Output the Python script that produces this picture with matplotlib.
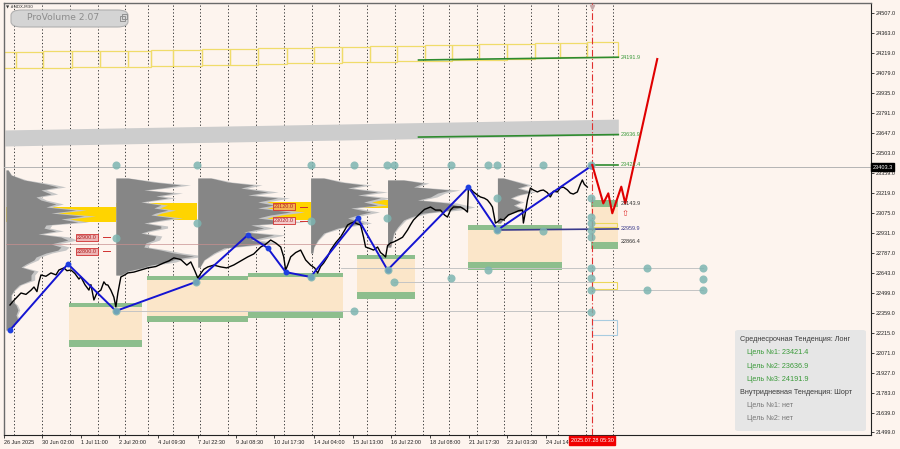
import matplotlib
matplotlib.use("Agg")
import matplotlib.pyplot as plt
import matplotlib.transforms as mtransforms
from matplotlib.patches import Rectangle, FancyBboxPatch

plt.rcParams['font.family'] = ['Liberation Sans', 'DejaVu Sans']

BG = '#FDF4EE'

# axes
price_ticks = [24507.0, 24363.0, 24219.0, 24079.0, 23935.0, 23791.0, 23647.0, 23503.0,
               23359.0, 23219.0, 23075.0, 22931.0, 22787.0, 22643.0, 22499.0, 22359.0,
               22215.0, 22071.0, 21927.0, 21783.0, 21639.0, 21499.0]
time_ticks = [3, 41, 80, 118, 157, 197, 235, 273, 313, 352, 390, 429, 469, 507, 546]
time_labels = ['26 Jun 2025', '30 Jun 02:00', '1 Jul 11:00', '2 Jul 20:00', '4 Jul 09:30',
               '7 Jul 22:30', '9 Jul 08:30', '10 Jul 17:30', '14 Jul 04:00', '15 Jul 13:00',
               '16 Jul 22:00', '18 Jul 08:00', '21 Jul 17:30', '23 Jul 03:30', '24 Jul 14']
day_lines = [13, 41, 69, 97, 124, 147, 172, 199, 227, 255, 283, 311, 338, 366, 394, 422,
             449, 477, 504, 531, 558, 586, 613]
now_bar = 591.7
now_label = '2025.07.28 05:30'
last_price = 23403.3

# price (close line)
bars = [9, 12, 16, 20, 25, 30, 33, 36, 38, 40, 45, 50, 55, 58, 63, 66, 70, 74, 78, 80,
        84, 88, 90, 93, 96, 100, 103, 105, 107, 110, 113, 115, 117, 120, 124, 127, 133, 140,
        147, 155, 163, 168, 173, 180, 186, 190, 194, 197, 200, 203, 207, 213, 220, 226, 233,
        240, 247, 253, 260, 265, 270, 275, 280, 283, 285, 287, 290, 295, 300, 305, 310, 314,
        317, 320, 323, 327, 330, 335, 340, 344, 347, 350, 353, 357, 360, 363, 365, 369, 373,
        377, 380, 383, 385, 387, 390, 393, 397, 402, 407, 410, 413, 418, 424, 430, 435, 440,
        444, 447, 450, 453, 460, 464, 467, 468, 471, 473, 477, 480, 484, 487, 490, 492, 495,
        497, 500, 503, 508, 513, 518, 522, 523, 525, 527, 530, 533, 537, 540, 543, 547, 550,
        553, 557, 560, 563, 567, 570, 573, 577, 580, 582, 584, 587]
close = [22414, 22440, 22470, 22500, 22490, 22520, 22543, 22510, 22580, 22629, 22620, 22644,
         22630, 22665, 22680, 22660, 22665, 22640, 22600, 22615, 22560, 22521, 22560, 22450,
         22500, 22521, 22580, 22560, 22557, 22520, 22470, 22400, 22500, 22615, 22630, 22644,
         22650, 22665, 22680, 22690, 22716, 22730, 22752, 22740, 22700, 22723, 22660, 22608,
         22640, 22670, 22687, 22700, 22687, 22680, 22701, 22730, 22759, 22780, 22830, 22850,
         22880, 22859, 22830, 22760, 22665, 22700, 22759, 22790, 22808, 22737, 22700, 22680,
         22643, 22690, 22715, 22760, 22808, 22860, 22902, 22950, 22988, 23000, 23009, 22995,
         22988, 22900, 22830, 22820, 22808, 22830, 22790, 22773, 22758, 22840, 22859, 22866,
         22880, 22900, 22952, 22990, 23024, 23060, 23100, 23117, 23095, 23095, 23060, 23045,
         23095, 23117, 23117, 23100, 23081, 23260, 23240, 23225, 23203, 23189, 23180, 23167,
         23140, 23117, 23002, 23010, 23030, 23024, 23060, 23074, 23090, 23095, 23002, 23080,
         23167, 23253, 23239, 23225, 23235, 23239, 23220, 23189, 23230, 23225, 23255, 23260,
         23240, 23217, 23210, 23225, 23280, 23311, 23280, 23260]

# zigzag
zz_bar = [9, 67, 115, 195, 247, 267, 285, 310, 357, 387, 468, 497, 591]
zz_price = [22234, 22708, 22371, 22579, 22916, 22823, 22650, 22615, 23038, 22665, 23260, 22952, 23411]

# forecast path
fc_bar = [592, 603, 608, 612, 621, 625, 657]
fc_price = [23418, 23143, 23215, 23072, 23263, 23143, 24179]

# volume profiles
p1_start = 5
p1_price = [23383, 23347, 23311, 23282, 23261, 23239, 23210, 23189, 23167, 23139, 23117, 23095,
            23074, 23052, 23031, 23009, 22988, 22966, 22945, 22923, 22902, 22880, 22852, 22830,
            22808, 22787, 22758, 22737, 22708, 22686, 22658, 22629, 22593, 22557, 22521, 22486,
            22450, 22414, 22378, 22342, 22306, 22270, 22234]
p1_vol = [2, 5, 18, 40, 52, 35, 45, 30, 35, 50, 40, 70, 45, 78, 55, 72, 40, 38, 50, 32, 55, 62,
          45, 55, 52, 40, 30, 28, 20, 15, 28, 25, 25, 13, 8, 5, 5, 10, 12, 10, 12, 7, 2]
p2_start = 115
p2_price = [23325, 23296, 23275, 23253, 23239, 23217, 23196, 23182, 23153, 23131, 23110, 23095,
            23074, 23060, 23038, 23017, 23002, 22981, 22966, 22945, 22930, 22909, 22880, 22859,
            22830, 22808, 22787, 22765, 22744, 22722, 22701, 22679, 22658, 22629]
p2_vol = [12, 38, 65, 45, 28, 58, 40, 52, 25, 45, 38, 52, 40, 35, 58, 40, 28, 45, 45, 32, 25, 40,
          38, 30, 28, 45, 58, 78, 60, 52, 35, 25, 12, 5]
p3_start = 197
p3_price = [23325, 23296, 23275, 23253, 23225, 23203, 23182, 23153, 23131, 23110, 23081, 23060,
            23038, 23009, 22988, 22966, 22938, 22916, 22880, 22859, 22823, 22787, 22737, 22686]
p3_vol = [13, 30, 56, 43, 70, 50, 80, 60, 76, 60, 93, 73, 60, 93, 53, 66, 46, 76, 53, 70, 26, 16, 6, 2]
p4_start = 310
p4_price = [23325, 23296, 23275, 23253, 23225, 23203, 23182, 23153, 23131, 23110, 23081, 23060,
            23038, 23002, 22966, 22930, 22880, 22830, 22787]
p4_vol = [13, 30, 53, 37, 67, 47, 70, 53, 67, 40, 60, 47, 37, 53, 27, 13, 7, 3, 2]
p5_start = 387
p5_price = [23311, 23289, 23261, 23239, 23217, 23189, 23167, 23146, 23117, 23095, 23074, 23045,
            23024, 22973, 22930, 22830]
p5_vol = [16, 36, 26, 63, 50, 43, 30, 60, 76, 63, 36, 23, 16, 10, 6, 3]
p6_start = 497
p6_price = [23325, 23296, 23275, 23253, 23225, 23203, 23182, 23153, 23131, 23095, 23074, 23038, 23002]
p6_vol = [6, 20, 30, 20, 33, 20, 13, 23, 16, 26, 13, 6, 3]

# point of control bands (yellow)
poc_x0 = [5, 115, 197, 310]
poc_x1 = [115, 196, 310, 413]
poc_hi = [23117, 23146, 23153, 23167]
poc_lo = [23009, 23024, 23024, 23110]

# upper yellow zone boxes
zone_edges = [3, 15, 42, 71, 99, 127, 150, 172, 201, 229, 257, 286, 313, 341, 369, 396, 424,
              452, 479, 507, 535, 560, 587, 618]
zone_hi = [24229, 24229, 24233, 24236, 24236, 24240, 24243, 24243, 24250, 24254, 24258, 24261,
           24265, 24268, 24272, 24275, 24279, 24283, 24286, 24290, 24294, 24297, 24301]
zone_lo = [24114, 24114, 24118, 24121, 24121, 24125, 24128, 24128, 24135, 24139, 24143, 24150,
           24154, 24157, 24161, 24164, 24168, 24172, 24175, 24179, 24183, 24190, 24193]

# gray resistance band
band_bar = [4, 618]
band_hi = [23670, 23748]
band_lo = [23555, 23633]

# range boxes (green bars + beige body)
box_x0 = [68, 146, 247, 356, 468, 591]
box_x1 = [141, 247, 342, 414, 562, 618]
box_top_hi = [22428, 22622, 22643, 22773, 22988, 23167]
box_top_lo = [22399, 22593, 22615, 22744, 22952, 23117]
box_bot_hi = [22163, 22335, 22364, 22507, 22722, 22866]
box_bot_lo = [22112, 22292, 22321, 22457, 22665, 22816]

# targets
tgt_x0 = [418, 418, 591]
tgt_left = [24172, 23619, 23421.4]
tgt_right = [24191.9, 23636.9, 23421.4]
side_prices = [24191.9, 23636.9, 23421.4, 23143.9, 22959.9, 22866.4]
side_colors = ['#3A9A3A', '#3A9A3A', '#3A9A3A', '#333333', '#3A3A8C', '#333333']
mid_line = 22959.9

# thin horizontal levels
hl_price = [22679, 22580, 22521, 22371]
hl_x0 = [340, 393, 591, 115]
hl_x1 = [703, 592, 703, 592]

# level tags
tag_text = ['23120.0', '23020.0', '22900.0', '22800.0']
tag_price = [23120.0, 23020.0, 22900.0, 22800.0]
tag_bar = [273, 273, 76, 76]
tag_fill = ['#F5B252', '#F3CACA', '#EDB5B5', '#EDB5B5']

# markers
dot_bar = [115, 196, 310, 353, 386, 393, 451, 488, 497, 543, 591,
           115, 196, 310, 386, 497, 543, 393, 451, 488, 353,
           115, 195, 310, 387, 497,
           591, 591, 591, 591, 591, 591, 591, 591, 591,
           647, 703, 703, 647, 703]
dot_price = [23418, 23418, 23418, 23418, 23418, 23418, 23418, 23418, 23418, 23418, 23418,
             22896, 23003, 23017, 23039, 23182, 22945, 22580, 22607, 22665, 22371,
             22371, 22579, 22615, 22665, 22952,
             23182, 23045, 23002, 22952, 22902, 22679, 22607, 22521, 22364,
             22679, 22679, 22600, 22521, 22521]

info_lines = ['Среднесрочная Тенденция: Лонг', 'Цель №1: 23421.4', 'Цель №2: 23636.9',
              'Цель №3: 24191.9', 'Внутридневная Тенденция: Шорт', 'Цель №1: нет', 'Цель №2: нет']
info_colors = ['#3C3C3C', '#3A9A3A', '#3A9A3A', '#3A9A3A', '#3C3C3C', '#777777', '#777777']
info_indent = [0, 1, 1, 1, 0, 1, 1]

W, H = 900, 449
fig = plt.figure(figsize=(9, 4.49), dpi=100, facecolor=BG)
ax = fig.add_axes([4 / W, 1 - 435 / H, 867 / W, 432 / H], facecolor=BG)
ax.set_xlim(4, 871)
ax.set_ylim(21481, 24581)


def fx(x):
    return x / W


def fy(y):
    return 1 - y / H


# day separators
for d in day_lines:
    ax.axvline(d, color='#3A3A3A', lw=0.7, ls=(0, (1.3, 2.2)), zorder=1)

# upper zone
for i in range(len(zone_hi)):
    ax.add_patch(Rectangle((zone_edges[i], zone_lo[i]), zone_edges[i + 1] - zone_edges[i],
                           zone_hi[i] - zone_lo[i], fill=False, ec='#F0DC6A', lw=0.9, zorder=2))
ax.fill_between(band_bar, band_lo, band_hi, color='#CDCDCD', lw=0, zorder=1.5)

# range boxes
for i in range(len(box_x0)):
    w = box_x1[i] - box_x0[i]
    ax.add_patch(Rectangle((box_x0[i], box_bot_hi[i]), w, box_top_lo[i] - box_bot_hi[i],
                           fc='#FBE6C9', ec='none', zorder=1.6))
    ax.add_patch(Rectangle((box_x0[i], box_top_lo[i]), w, box_top_hi[i] - box_top_lo[i],
                           fc='#8DBE8D', ec='none', zorder=2))
    ax.add_patch(Rectangle((box_x0[i], box_bot_lo[i]), w, box_bot_hi[i] - box_bot_lo[i],
                           fc='#8DBE8D', ec='none', zorder=2))

# poc bands
for i in range(len(poc_x0)):
    ax.fill_between([poc_x0[i], poc_x1[i]], poc_lo[i], poc_hi[i], color='#FFD400', lw=0, zorder=2.2)

# volume profiles
for start, pr, vol in [(p1_start, p1_price, p1_vol), (p2_start, p2_price, p2_vol),
                       (p3_start, p3_price, p3_vol), (p4_start, p4_price, p4_vol),
                       (p5_start, p5_price, p5_vol), (p6_start, p6_price, p6_vol)]:
    ax.fill_betweenx(pr, start, [start + v * 1.15 for v in vol], color='#C6C6C6', lw=0, zorder=2.4)
    ax.fill_betweenx(pr, start, [start + v for v in vol], color='#868686', lw=0, zorder=2.5)

# thin levels
ax.axhline(last_price, color='#B4B4B4', lw=0.7, zorder=2.6)
for p, a, b in zip(hl_price, hl_x0, hl_x1):
    ax.plot([a, b], [p, p], color='#C4C4C4', lw=0.7, zorder=2.6)
ax.plot([5, 390], [22850, 22850], color='#C79090', lw=0.5, zorder=2.6)

# tags
for t, p, b, c in zip(tag_text, tag_price, tag_bar, tag_fill):
    ax.text(b, p, t, fontsize=4, color='#B02020', ha='left', va='center', zorder=7,
            bbox=dict(boxstyle='square,pad=0.15', fc=c, ec='#D03030', lw=0.6))
    ax.plot([b + 26, b + 33], [p, p], color='#D03030', lw=0.7, zorder=7)

# targets
for a, l, r in zip(tgt_x0, tgt_left, tgt_right):
    ax.plot([a, 618], [l, r], color='#2E8B2E', lw=1.2, zorder=3)
ax.plot([497, 618], [22952, mid_line], color='#3A3A8C', lw=1.2, zorder=3)
for p, c in zip(side_prices, side_colors):
    ax.text(620, p, f'{p:.1f}', fontsize=4, color=c, ha='left', va='center', zorder=7)

# small outline boxes at the current bar
ax.add_patch(Rectangle((592, 22529), 25, 51, fill=False, ec='#EBD75A', lw=0.8, zorder=3))
ax.add_patch(Rectangle((592, 22973), 25, 29, fill=False, ec='#EBD75A', lw=0.8, zorder=3))
ax.add_patch(Rectangle((592, 22198), 25, 108, fill=False, ec='#A8CCE0', lw=0.8, zorder=3))

# price
ax.plot(bars, close, color='black', lw=1.0, zorder=4)

# zigzag
ax.plot(zz_bar, zz_price, color='#1414D2', lw=1.4, zorder=5)
ax.plot(zz_bar, zz_price, 'o', color='#1E3FE0', ms=3.2, zorder=5)

# markers
ax.plot(dot_bar, dot_price, 'o', color='#7DB5B1', ms=5.8, alpha=0.85, mec='none', zorder=6)

# forecast
ax.plot(fc_bar, fc_price, color='#E00000', lw=1.5, zorder=6)
ax.text(625, 23060, '⇧', fontsize=6, color='#E03030', ha='center', va='center', zorder=6)
ax.axvline(now_bar, color='#E03030', lw=0.8, ls=(0, (6, 2, 1, 2)), zorder=5)
ax.plot([now_bar], [24555], marker='v', color='#C8A8A8', ms=3, zorder=6)

# axes styling
for s in ['left', 'top']:
    ax.spines[s].set_color('#6A6A6A')
    ax.spines[s].set_linewidth(1.0)
for s in ['right', 'bottom']:
    ax.spines[s].set_color('#222222')
    ax.spines[s].set_linewidth(0.8)
ax.yaxis.tick_right()
ax.set_yticks(price_ticks)
ax.set_yticklabels([f'{v:.1f}' for v in price_ticks])
ax.set_xticks(time_ticks)
ax.set_xticklabels(time_labels)
for lbl in ax.get_xticklabels():
    lbl.set_horizontalalignment('left')
ax.tick_params(axis='y', length=2, width=0.6, labelsize=4, pad=1.5, colors='#222222')
ax.tick_params(axis='x', length=2, width=0.6, labelsize=4, pad=1.5, colors='#222222')

# current price tag and time tag
trans_y = mtransforms.blended_transform_factory(ax.transAxes, ax.transData)
ax.text(1.002, last_price, f'{last_price:.1f}', transform=trans_y, fontsize=4, color='white',
        ha='left', va='center', clip_on=False, zorder=10,
        bbox=dict(boxstyle='square,pad=0.25', fc='black', ec='black'))
trans_x = mtransforms.blended_transform_factory(ax.transData, ax.transAxes)
ax.text(now_bar, -0.013, now_label, transform=trans_x, fontsize=4, color='white',
        ha='center', va='center', clip_on=False, zorder=10,
        bbox=dict(boxstyle='square,pad=0.3', fc='#F00000', ec='#F00000'))

# info panel
fig.patches.append(FancyBboxPatch((fx(735), fy(431)), fx(131), 101 / H,
                                  boxstyle='round,pad=0.0,rounding_size=0.004',
                                  fc='#E6E6E6', ec='none', transform=fig.transFigure, zorder=20))
line_y = [339.5, 353, 366, 379.5, 392.5, 405.5, 418.5]
for t, c, ind, yy in zip(info_lines, info_colors, info_indent, line_y):
    fig.text(fx(740 + 7 * ind), fy(yy), t, fontsize=5.2, color=c, ha='left', va='center', zorder=21)

# ProVolume button
fig.patches.append(FancyBboxPatch((fx(11), fy(27)), fx(117), 17 / H,
                                  boxstyle='round,pad=0.0,rounding_size=0.012',
                                  fc='#D4D4D4', ec='#B0B0B0', lw=0.8,
                                  transform=fig.transFigure, zorder=20))
fig.text(fx(63), fy(18), 'ProVolume 2.07', fontsize=6.6, color='#8C8C8C', ha='center',
         va='center', zorder=21, family=['DejaVu Sans'])
fig.patches.append(Rectangle((fx(120), fy(21)), 5 / W, 5 / H, fill=False, ec='#909090', lw=0.7,
                             transform=fig.transFigure, zorder=21))
fig.patches.append(Rectangle((fx(122), fy(19)), 5 / W, 5 / H, fill=False, ec='#909090', lw=0.7,
                             transform=fig.transFigure, zorder=21))
fig.text(fx(6), fy(6), '▼ #NDX,M30', fontsize=3, color='#333333', ha='left', va='center',
         zorder=19, family=['DejaVu Sans'])

fig.savefig('out.png', dpi=100, facecolor=BG)
